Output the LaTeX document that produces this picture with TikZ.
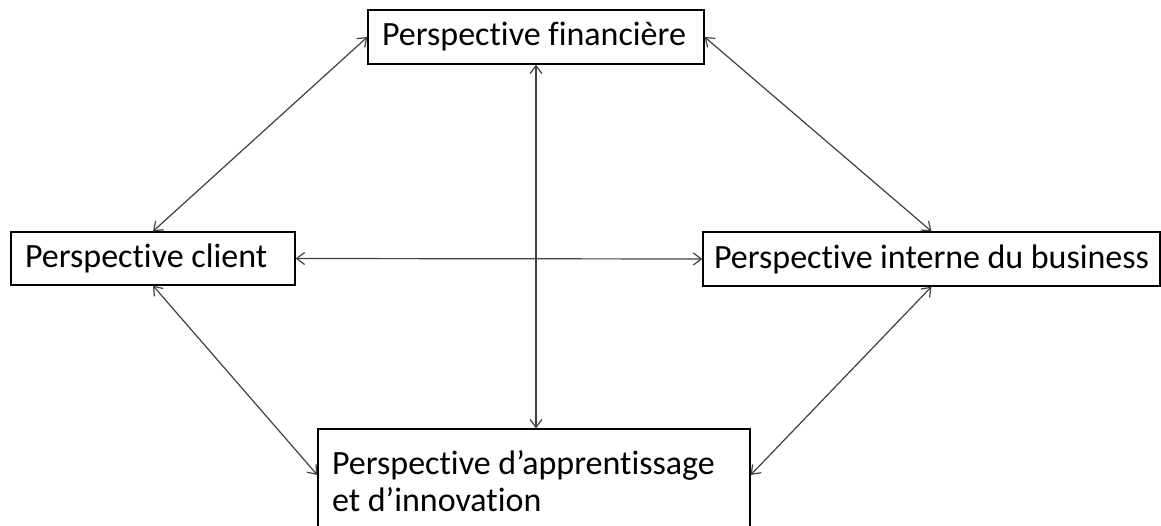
\documentclass[tikz,border=0pt]{standalone}
\usepackage{fontspec}
\setmainfont[Ligatures=NoCommon]{Carlito}
\usetikzlibrary{arrows.meta}

\begin{document}
\begin{tikzpicture}[x=1pt,y=1pt,
  persp/.style={shape=rectangle,draw=black,line width=1.3pt,inner xsep=14pt,inner ysep=0pt,
    align=flush left,font=\fontsize{34}{37}\selectfont},
  link/.style={<->,>={Straight Barb[length=8pt,width=12pt]},draw=black!75,line width=1.2pt}]
\useasboundingbox (0,0) rectangle (1161,525);
\node[persp,minimum width=336pt,minimum height=54pt,text width=308pt] (fin) at (536,488) {Perspective financière};
\node[persp,minimum width=284pt,minimum height=53pt,text width=256pt] (client) at (153,266.5) {Perspective client};
\node[persp,inner xsep=11pt,minimum width=457pt,minimum height=54pt,text width=435pt] (interne) at (931.5,266) {Perspective interne du business};
\node[persp,minimum width=432pt,minimum height=104pt,text width=404pt] (appr) at (534,44) {Perspective d’apprentissage\\et d’innovation};
\draw[link] (fin.west) -- (client.north);
\draw[link] (fin.east) -- (interne.north);
\draw[link] (fin.south) -- (fin.south |- appr.north);
\draw[link] (client.east) -- (interne.west);
\draw[link] (client.south) -- ([yshift=6pt]appr.west);
\draw[link] (interne.south) -- ([yshift=6pt]appr.east);
\end{tikzpicture}
\end{document}
